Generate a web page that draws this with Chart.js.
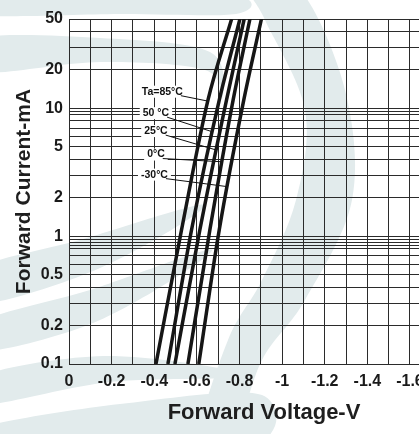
<!DOCTYPE html>
<html><head><meta charset="utf-8">
<script src="https://cdn.jsdelivr.net/npm/chart.js@4.4.1/dist/chart.umd.min.js"></script>
<style>
html,body{margin:0;padding:0;overflow:hidden;background:#fff;width:419px;height:434px}
canvas{display:block}
</style></head>
<body><canvas id="c" width="476" height="434"></canvas>
<script>
// ---- data ----
const currentsMA = [0.1, 1.12, 11.6, 50];
const vf85  = [-0.408, -0.528, -0.652, -0.763];
const vf50  = [-0.464, -0.575, -0.705, -0.802];
const vf25  = [-0.497, -0.614, -0.739, -0.822];
const vf0   = [-0.558, -0.661, -0.770, -0.849];
const vfM30 = [-0.609, -0.705, -0.820, -0.903];
const seriesNames = ['Ta=85\u00B0C', '50 \u00B0C', '25\u00B0C', '0\u00B0C', '-30\u00B0C'];
const yLabelValues = [0.1, 0.2, 0.5, 1, 2, 5, 10, 20, 50];
const yGridValues = [0.1, 0.2, 0.3, 0.4, 0.5, 0.6, 0.7, 0.8, 0.85, 0.9, 0.95, 1,
                     2, 3, 4, 5, 6, 7, 8, 9, 9.5, 10, 20, 30, 40, 50];

// annotation placement (data coordinates)
const noteAnchorV = [-0.438, -0.408, -0.408, -0.408, -0.401];
const noteAnchorI = [13.5, 9.17, 6.64, 4.35, 3.03];
const noteTargetI = [11.4, 6.55, 4.72, 3.82, 2.44];

const FONT = "'Liberation Sans', Arial, sans-serif";
const series = [vf85, vf50, vf25, vf0, vfM30];

const datasets = series.map((vs, i) => ({
  label: seriesNames[i],
  data: vs.map((v, k) => ({x: v, y: currentsMA[k]})),
  borderColor: '#161616',
  borderWidth: 3.5,
  pointRadius: 0,
  cubicInterpolationMode: 'monotone',
  fill: false
}));

function smoothShape(ctx, pts) {
  // closed Catmull-Rom through the points
  const n = pts.length;
  ctx.beginPath();
  ctx.moveTo(pts[0][0], pts[0][1]);
  for (let i = 0; i < n; i++) {
    const p0 = pts[(i - 1 + n) % n], p1 = pts[i], p2 = pts[(i + 1) % n], p3 = pts[(i + 2) % n];
    ctx.bezierCurveTo(p1[0] + (p2[0] - p0[0]) / 6, p1[1] + (p2[1] - p0[1]) / 6,
                      p2[0] - (p3[0] - p1[0]) / 6, p2[1] - (p3[1] - p1[1]) / 6,
                      p2[0], p2[1]);
  }
  ctx.closePath();
  ctx.fill();
}

const watermark = {
  id: 'watermark',
  beforeDraw(chart) {
    const ctx = chart.ctx;
    ctx.save();
    ctx.fillStyle = '#fff';
    ctx.fillRect(0, 0, chart.width, chart.height);
    ctx.fillStyle = '#e2ebec';
    // top band
    smoothShape(ctx, [[-20, -5], [120, -6], [238, -4], [236, 14], [120, 14], [-20, 15]]);
    // left wedge
    smoothShape(ctx, [[-20, 38], [100, 38], [210, 52], [222, 100], [205, 70], [100, 62], [-20, 72]]);
    // right crescent
    smoothShape(ctx, [[252, -10], [300, -10], [345, 90], [352, 200], [305, 300], [262, 360], [232, 440],
                      [198, 440], [228, 340], [262, 280], [296, 200], [305, 110], [265, 20]]);
    // lower-left stripes
    smoothShape(ctx, [[-20, 268], [80, 240], [205, 205], [100, 268], [-20, 304]]);
    smoothShape(ctx, [[-20, 322], [90, 290], [212, 250], [100, 320], [-20, 352]]);
    smoothShape(ctx, [[-20, 376], [110, 356], [250, 376], [110, 382], [-20, 405]]);
    smoothShape(ctx, [[-20, 428], [120, 404], [262, 395], [240, 450], [-20, 450]]);
    ctx.restore();
  }
};

const notes = {
  id: 'notes',
  beforeDatasetsDraw(chart) {
    const ctx = chart.ctx;
    const xs = chart.scales.x, ys = chart.scales.y;
    ctx.save();
    ctx.font = "bold 10.5px " + FONT;
    ctx.textBaseline = 'middle';
    ctx.textAlign = 'center';
    seriesNames.forEach((name, i) => {
      const cx = xs.getPixelForValue(noteAnchorV[i]);
      const cy = ys.getPixelForValue(noteAnchorI[i]);
      const w = ctx.measureText(name).width;
      ctx.fillStyle = '#fff';
      ctx.fillRect(cx - w / 2 - 3, cy - 6, w + 6, 12);
      ctx.fillStyle = '#111';
      ctx.fillText(name, cx, cy);
      const ty = ys.getPixelForValue(noteTargetI[i]);
      const pts = chart.getDatasetMeta(i).data;
      let tx = null;
      for (let k = 0; k < pts.length - 1; k++) {
        const a = pts[k], b = pts[k + 1];
        if ((a.y - ty) * (b.y - ty) <= 0) {
          tx = a.x + (b.x - a.x) * (ty - a.y) / (b.y - a.y);
          break;
        }
      }
      if (tx !== null) {
        ctx.strokeStyle = '#111';
        ctx.lineWidth = 1;
        ctx.beginPath();
        ctx.moveTo(cx + w / 2 - 2, cy + 4);
        ctx.lineTo(tx, ty);
        ctx.stroke();
      }
    });
    ctx.restore();
  }
};

new Chart(document.getElementById('c'), {
  type: 'line',
  data: {datasets},
  plugins: [watermark, notes],
  options: {
    responsive: false,
    animation: false,
    events: [],
    layout: {padding: {left: 0, top: 19, right: 17, bottom: 0}},
    plugins: {legend: {display: false}, tooltip: {enabled: false}},
    scales: {
      x: {
        type: 'linear',
        min: -1.83, max: 0,
        reverse: true,
        afterFit(scale) { scale.height = 70; },
        ticks: {
          stepSize: 0.1,
          includeBounds: false,
          autoSkip: false,
          maxRotation: 0,
          padding: 8,
          color: '#1a1a1a',
          font: {family: FONT, size: 16, weight: 'bold'},
          callback(v) {
            const t = Math.round(v * 10);
            if (t % 2 !== 0) return '';
            return t === 0 ? '0' : String(t / 10);
          }
        },
        grid: {color: '#2b2b2b', lineWidth: 1, drawTicks: false},
        border: {color: '#2b2b2b'},
        title: {
          display: true, text: 'Forward Voltage-V', color: '#1e1e1e',
          font: {family: FONT, size: 22, weight: 'bold'},
          padding: {top: 0, bottom: 8}
        }
      },
      y: {
        type: 'logarithmic',
        min: 0.1, max: 50,
        afterFit(scale) { scale.width = 69; },
        afterBuildTicks(scale) {
          scale.ticks = yGridValues.map(v => ({value: v}));
        },
        ticks: {
          autoSkip: false,
          padding: 6,
          color: '#1a1a1a',
          font: {family: FONT, size: 16, weight: 'bold'},
          callback(v) { return yLabelValues.includes(v) ? String(v) : ''; }
        },
        grid: {color: '#2b2b2b', lineWidth: 1, drawTicks: false},
        border: {color: '#2b2b2b'},
        title: {
          display: true, text: 'Forward Current-mA', color: '#1e1e1e',
          font: {family: FONT, size: 21, weight: 'bold'},
          padding: {top: 12, bottom: 0}
        }
      }
    }
  }
});
</script>
</body></html>
